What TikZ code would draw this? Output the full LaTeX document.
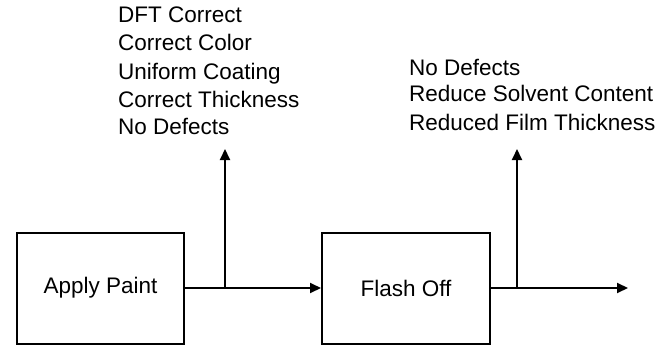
\documentclass[tikz,border=0pt]{standalone}
\usepackage{fontspec}
\setmainfont{Liberation Sans}
\usetikzlibrary{arrows.meta}
\begin{document}
\begin{tikzpicture}[x=1pt,y=-1pt,
  box/.style={draw,line width=2pt,minimum width=167pt,minimum height=111pt,inner sep=0pt,font=\fontsize{22.5}{27}\selectfont},
  lbl/.style={anchor=base west,inner sep=0pt,font=\fontsize{22.5}{27}\selectfont},
  conn/.style={line width=2pt},
  arr/.style={line width=2pt,-{Triangle[length=11pt,width=10pt]}}]
\useasboundingbox (0,0) rectangle (664,345);
\node[box] (apply) at (100.5,288) {Apply\ Paint};
\node[box,minimum width=168pt] (flash) at (406,288) {Flash Off};
\coordinate (b1) at (225,288);
\coordinate (t1) at (225,149);
\coordinate (b2) at (517,288);
\coordinate (t2) at (517,149);
\coordinate (out) at (628,288);
\draw[arr] (apply.east) -- (flash.west);
\draw[arr] (b1) -- (t1);
\draw[conn] (flash.east) -- (b2);
\draw[arr] (b2) -- (out);
\draw[arr] (b2) -- (t2);
\node[lbl] (a1) at (118,23) {DFT Correct};
\node[lbl] (a2) at (118,51) {Correct Color};
\node[lbl] (a3) at (118,79) {Uniform Coating};
\node[lbl] (a4) at (118,107) {Correct Thickness};
\node[lbl] (a5) at (118,134) {No Defects};
\node[lbl] (c1) at (409,75) {No Defects};
\node[lbl] (c2) at (409,102) {Reduce Solvent Content};
\node[lbl] (c3) at (409,130) {Reduced Film Thickness};
\end{tikzpicture}
\end{document}
